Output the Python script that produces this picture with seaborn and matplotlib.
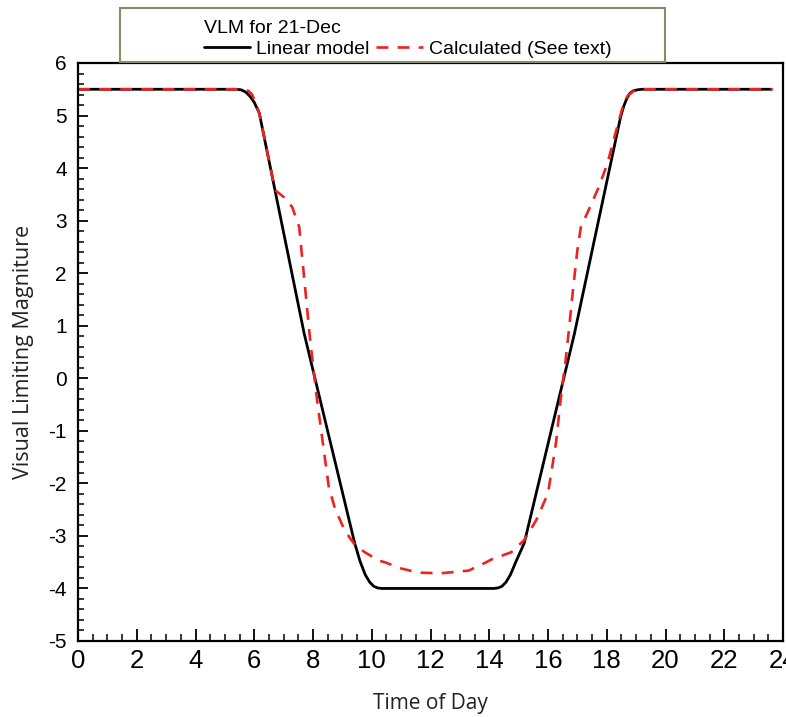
import pandas as pd
import seaborn as sns
import matplotlib.pyplot as plt
from matplotlib.patches import Rectangle
from matplotlib.ticker import MultipleLocator

# Linear model curve
linear_hours = [0, 5.4, 5.55, 5.7, 5.85, 6.0, 6.17, 7.7, 9.42, 9.6, 9.78,
                9.93, 10.07, 10.2, 10.35, 14.15, 14.3, 14.43, 14.57, 14.72,
                14.9, 15.19, 16.9, 18.47, 18.58, 18.68, 18.78, 18.9, 19.05,
                19.2, 23.6]
linear_vlm = [5.5, 5.5, 5.49, 5.45, 5.37, 5.25, 5.05, 0.85, -3.14, -3.48,
              -3.74, -3.88, -3.96, -3.99, -4.0, -4.0, -3.99, -3.96, -3.88,
              -3.74, -3.5, -3.14, 0.85, 4.97, 5.18, 5.32, 5.42, 5.47, 5.49,
              5.5, 5.5]

# Calculated curve
calc_hours = [0, 5.6, 5.8, 5.93, 6.17, 6.71, 7.0, 7.29, 7.53, 7.9, 8.14,
              8.54, 8.75, 9.08, 9.4, 9.76, 10.24, 10.44, 11.0, 11.6, 12.37,
              13.3, 13.83, 14.07, 14.75, 15.19, 15.6, 16.0, 16.27, 16.44, 16.6,
              16.71, 16.85, 17.0, 17.12, 17.35, 17.73, 18.03, 18.3, 18.58,
              18.72, 18.9, 19.1, 23.65]
calc_vlm = [5.5, 5.5, 5.47, 5.4, 5.05, 3.58, 3.45, 3.26, 2.88, 0.75, -0.42,
            -2.08, -2.48, -2.9, -3.15, -3.31, -3.47, -3.5, -3.62, -3.70, -3.71,
            -3.66, -3.52, -3.45, -3.31, -3.08, -2.7, -2.19, -1.24, -0.36, 0.34,
            0.91, 1.68, 2.44, 2.88, 3.16, 3.64, 4.1, 4.67, 5.24, 5.38, 5.46,
            5.5, 5.5]

x_ticks = list(range(0, 25, 2))
y_ticks = list(range(-5, 7))

df_lin = pd.DataFrame({'Time of Day': linear_hours, 'VLM': linear_vlm})
df_calc = pd.DataFrame({'Time of Day': calc_hours, 'VLM': calc_vlm})

sns.set_style("white")
plt.rcParams['font.family'] = ['Liberation Sans', 'DejaVu Sans']
plt.rcParams['axes.unicode_minus'] = False
plt.rcParams['text.color'] = 'black'
plt.rcParams['xtick.color'] = 'black'
plt.rcParams['ytick.color'] = 'black'
plt.rcParams['axes.labelcolor'] = '#222222'

fig = plt.figure(figsize=(7.86, 7.17), dpi=100)
ax = fig.add_axes([78 / 786, 1 - 641 / 717, 705 / 786, (641 - 63) / 717])

sns.lineplot(data=df_lin, x='Time of Day', y='VLM', color='black',
             linewidth=2.0, label='Linear model', ax=ax)
sns.lineplot(data=df_calc, x='Time of Day', y='VLM', color='#ee2222',
             linewidth=1.9, label='Calculated (See text)', ax=ax)
ax.lines[1].set_dashes([4.5, 3.5])

ax.set_xlim(0, 24)
ax.set_ylim(-5, 6)
ax.set_xticks(x_ticks)
ax.set_yticks(y_ticks)
ax.xaxis.set_minor_locator(MultipleLocator(0.5))
ax.yaxis.set_minor_locator(MultipleLocator(0.2))
ax.tick_params(axis='x', which='major', direction='in', length=9, width=1.3,
               labelsize=18.5, pad=6)
ax.tick_params(axis='x', which='minor', direction='in', length=5, width=1.1)
ax.tick_params(axis='y', which='major', direction='in', length=7, width=1.3,
               labelsize=15, pad=8)
ax.tick_params(axis='y', which='minor', direction='in', length=4, width=1.1)
ax.tick_params(top=False, right=False, which='both', bottom=True, left=True)
for s in ax.spines.values():
    s.set_color('black')
    s.set_linewidth(1.6)

ax.set_xlabel('Time of Day', fontsize=15, family=['Open Sans', 'DejaVu Sans'],
              labelpad=14)
ax.set_ylabel('Visual Limiting Magniture', fontsize=15.5,
              family=['Open Sans', 'DejaVu Sans'], labelpad=10)

handles, labels = ax.get_legend_handles_labels()
ax.get_legend().remove()
leg = fig.legend(handles, labels, ncol=2, title='VLM for 21-Dec',
                 loc='upper left', bbox_to_anchor=(190 / 786, 1 - 6 / 717),
                 frameon=False, fontsize=14, title_fontsize=14,
                 alignment='left', handlelength=2.4, handletextpad=0.3,
                 columnspacing=0.35, borderpad=0.2, labelspacing=0.2)
fig.patches.append(Rectangle((120 / 786, 1 - 62 / 717), 545 / 786, 54 / 717,
                             transform=fig.transFigure, fill=False,
                             edgecolor='#8a8a66', linewidth=1.5))

fig.savefig('out.png', dpi=100)
